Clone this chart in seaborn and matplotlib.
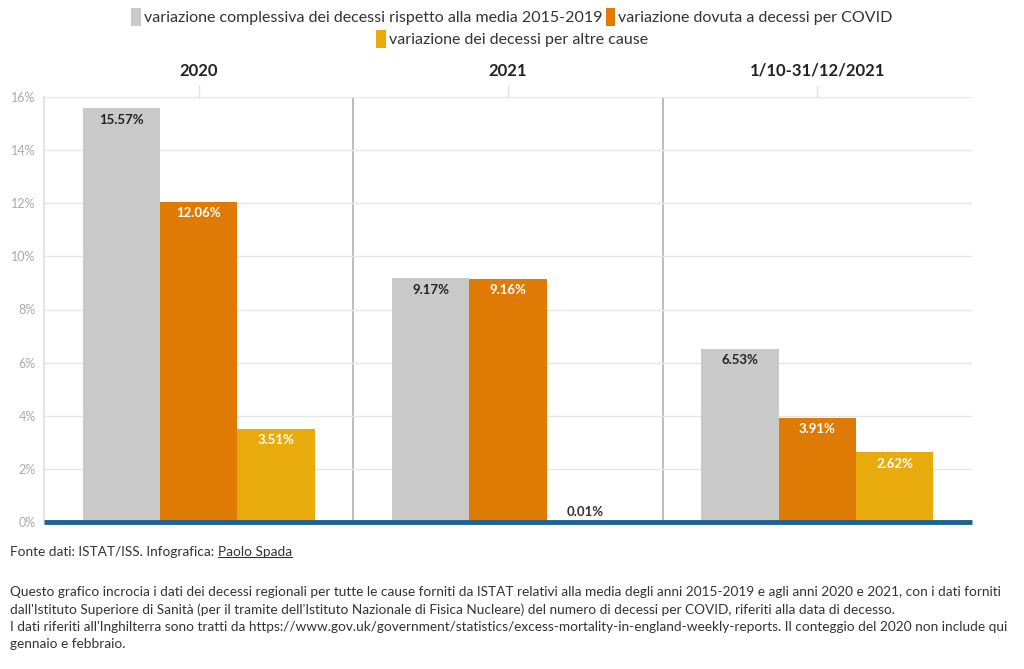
import matplotlib
matplotlib.use("Agg")
import matplotlib.pyplot as plt
import seaborn as sns
import pandas as pd
from matplotlib.patches import Patch
from matplotlib.lines import Line2D

# ---- data ----
periods = ["2020", "2021", "1/10-31/12/2021"]
series = [
    "variazione complessiva dei decessi rispetto alla media 2015-2019",
    "variazione dovuta a decessi per COVID",
    "variazione dei decessi per altre cause",
]
totale = [15.57, 9.17, 6.53]
covid = [12.06, 9.16, 3.91]
altre = [3.51, 0.01, 2.62]
yticks = [0, 2, 4, 6, 8, 10, 12, 14, 16]

colors = ["#c9c9c9", "#df7b04", "#e9ab0b"]
label_colors = ["#222222", "white", "white"]

rows = []
for s, vals in zip(series, [totale, covid, altre]):
    for p, v in zip(periods, vals):
        rows.append({"periodo": p, "serie": s, "valore": v})
df = pd.DataFrame(rows)

sns.set_theme(style="white")
plt.rcParams["font.family"] = ["Lato", "DejaVu Sans"]

fig = plt.figure(figsize=(10.24, 6.69), dpi=100)
ax = fig.add_axes([44 / 1024, 1 - 522 / 669, (972 - 44) / 1024, (522 - 97) / 669])

sns.barplot(data=df, x="periodo", y="valore", hue="serie", order=periods,
            hue_order=series, palette=colors, width=0.75, saturation=1,
            linewidth=0, ax=ax, legend=False)

ax.set_xlim(-0.5, len(periods) - 0.5)
ax.set_ylim(0, 16)
ax.set_yticks(yticks)
ax.set_yticklabels([f"{t}%" for t in yticks], color="#aaaaaa", fontsize=9)
ax.set_xlabel("")
ax.set_ylabel("")
ax.yaxis.grid(True, color="#e6e6e6", linewidth=1)
ax.set_axisbelow(True)

# period titles on top
ax.xaxis.tick_top()
ax.set_xticks(range(len(periods)))
ax.set_xticklabels(periods, fontsize=12, fontweight="bold", color="#222222")
ax.tick_params(axis="x", length=9, color="#e2e2e2", pad=4, width=1)
ax.tick_params(axis="y", length=0, pad=6)
for x in [0.5, 1.5]:
    ax.axvline(x, color="#b0b0b0", linewidth=1.2, zorder=0.5)

for side in ["top", "right", "bottom"]:
    ax.spines[side].set_visible(False)
ax.spines["left"].set_color("#e0e0e0")
ax.axhline(0, color="#1f6390", linewidth=3.5, zorder=5, clip_on=False,
           solid_capstyle="butt")

# bar value labels
n = len(periods)
for i, patch in enumerate(ax.patches[: n * len(series)]):
    si = i // n
    h = patch.get_height()
    xc = patch.get_x() + patch.get_width() / 2
    txt = f"{h:.2f}%"
    if h < 1:
        ax.annotate(txt, (xc, h), xytext=(0, 7), textcoords="offset points",
                    ha="center", va="center", fontsize=9.5, fontweight="bold",
                    color="#333333", zorder=6)
    else:
        ax.annotate(txt, (xc, h), xytext=(0, -8), textcoords="offset points",
                    ha="center", va="center", fontsize=9.5, fontweight="bold",
                    color=label_colors[si], zorder=6)

# legend
handles = [Patch(facecolor=c, edgecolor="none") for c in colors]
leg1 = fig.legend(handles[:2], series[:2], loc="center", bbox_to_anchor=(0.5, 1 - 17 / 669),
                  ncol=2, frameon=False, fontsize=11.5, handlelength=0.6, handleheight=1.3,
                  handletextpad=0.2, columnspacing=0.2, labelcolor="#333333")
leg2 = fig.legend(handles[2:], series[2:], loc="center", bbox_to_anchor=(0.5, 1 - 39 / 669),
                  ncol=1, frameon=False, fontsize=11.5, handlelength=0.6, handleheight=1.3,
                  handletextpad=0.2, labelcolor="#333333")

# footer
fc = "#333333"
fs = 9.8
t1 = fig.text(10 / 1024, 1 - 552 / 669, "Fonte dati: ISTAT/ISS. Infografica: ", fontsize=fs,
              color=fc, va="center", ha="left")
fig.canvas.draw()
r = fig.canvas.get_renderer()
bb = t1.get_window_extent(r)
t2 = fig.text(bb.x1 / 1024, 1 - 552 / 669, "Paolo Spada", fontsize=fs, color=fc,
              va="center", ha="left")
bb2 = t2.get_window_extent(r)
fig.add_artist(Line2D([bb2.x0 / 1024, bb2.x1 / 1024], [bb2.y0 / 669 + 0.001] * 2,
                      color=fc, linewidth=0.8))

para = [
    "Questo grafico incrocia i dati dei decessi regionali per tutte le cause forniti da ISTAT relativi alla media degli anni 2015-2019 e agli anni 2020 e 2021, con i dati forniti",
    "dall'Istituto Superiore di Sanità (per il tramite dell'Istituto Nazionale di Fisica Nucleare) del numero di decessi per COVID, riferiti alla data di decesso.",
    "I dati riferiti all'Inghilterra sono tratti da https://www.gov.uk/government/statistics/excess-mortality-in-england-weekly-reports. Il conteggio del 2020 non include qui",
    "gennaio e febbraio.",
]
for k, line in enumerate(para):
    fig.text(10 / 1024, 1 - (592 + 17.3 * k) / 669, line, fontsize=fs, color=fc,
             va="center", ha="left")

fig.savefig("out.png", dpi=100, facecolor="white")
